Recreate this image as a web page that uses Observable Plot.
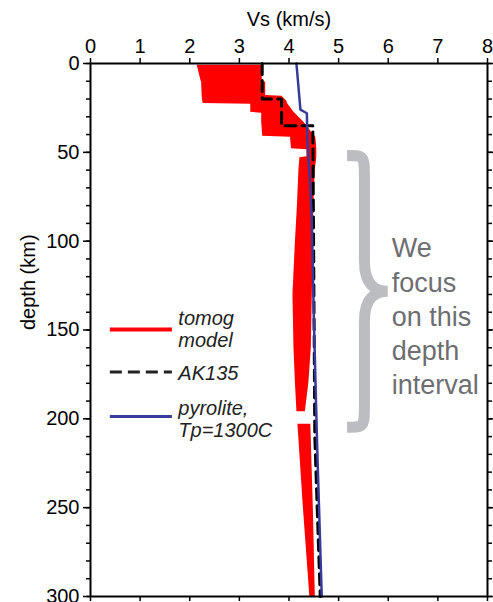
<!DOCTYPE html>
<html><head><meta charset="utf-8">
<script src="https://cdn.jsdelivr.net/npm/d3@7"></script>
<script src="https://cdn.jsdelivr.net/npm/@observablehq/plot@0.6"></script>
<style>body{margin:0;background:#fff;} svg{display:block;}</style>
</head><body><div id="chart"></div>
<script>
// ---- tick values ----
const xTicks = [0, 1, 2, 3, 4, 5, 6, 7, 8];
const yMajorTicks = [0, 50, 100, 150, 200, 250, 300];
const yMinorTicks = [0,10,20,30,40,50,60,70,80,90,100,110,120,130,140,150,160,170,180,190,200,210,220,230,240,250,260,270,280,290,300];

// ---- tomographic model band (min / max Vs per depth), segments ----
const tomogSeg   = ["a","a","a","a","a","a","a","a","a","a","a","a","a","a","a","a","a","a","a","a","a","a","a","a","a","c","c","c"];
const tomogDepth = [1, 10, 10.5, 18, 18.5, 21, 22.5, 23, 27.5, 28, 33, 41, 41.5, 48, 48.5, 52.5, 53, 60, 80, 100, 130, 160, 180, 196, 196.01, 203, 250, 300];
const tomogMin   = [2.15, 2.23, 2.24, 2.25, 2.25, 2.26, 2.27, 3.23, 3.23, 3.45, 3.45, 3.47, 4.03, 4.05, 4.36, 4.36, 4.22, 4.20, 4.17, 4.13, 4.08, 4.10, 4.13, 4.16, 4.16, 4.18, 4.29, 4.42];
const tomogMax   = [3.46, 3.46, 3.53, 3.53, 3.86, 3.95, 3.97, 3.98, 4.10, 4.12, 4.30, 4.52, 4.54, 4.56, 4.56, 4.56, 4.56, 4.53, 4.50, 4.49, 4.47, 4.45, 4.40, 4.33, 4.33, 4.44, 4.49, 4.53];

// ---- AK135 reference model ----
const akDepth = [0, 20, 20, 35, 35, 77.5, 120, 165, 210, 260, 300];
const akVs    = [3.46, 3.46, 3.85, 3.85, 4.48, 4.49, 4.50, 4.51, 4.52, 4.58, 4.63];

// ---- pyrolite, Tp=1300C ----
const pyDepth = [0, 26, 28, 43, 65, 88, 143, 218, 300];
const pyVs    = [4.15, 4.23, 4.36, 4.37, 4.42, 4.46, 4.50, 4.57, 4.66];

// ---- legend ----
const legendLabels = ["tomog\nmodel", "AK135", "pyrolite,\nTp=1300C"];
const legendLineDepth = [149.7, 173.7, 198.7];
const legendTextDepth = [149.2, 174.4, 200.3];
const legendLineVs = [0.40, 1.65];
const legendTextVs = 1.77;

// ---- annotation ----
const noteText = "We\nfocus\non this\ndepth\ninterval";
const noteVs = 6.07;
const noteDepth = 141.5;
const braceDepth = [52, 128.5, 205];
const braceVs = [5.18, 5.53, 6.0];

const tomog = tomogDepth.map((d, i) => ({seg: tomogSeg[i], depth: d, lo: tomogMin[i], hi: tomogMax[i]}));
const ak = akDepth.map((d, i) => ({depth: d, vs: akVs[i]}));
const py = pyDepth.map((d, i) => ({depth: d, vs: pyVs[i]}));
const legend = legendLabels.map((t, i) => ({text: t, ly: legendLineDepth[i], ty: legendTextDepth[i]}));

const RED = "#ff0000", BLUE = "#383a9a", GRAY_BRACE = "#bcbdc0", GRAY_TEXT = "#6d6e71";
const FONT = "'Liberation Sans', Arial, Helvetica, sans-serif";

function brace(index, scales) {
  const x = scales.x, y = scales.y;
  const L = x(braceVs[0]), V = x(braceVs[1]), T = x(braceVs[2]);
  const yT = y(braceDepth[0]), yM = y(braceDepth[1]), yB = y(braceDepth[2]);
  const p = `M${L},${yT} C${V},${yT} ${V},${yT} ${V},${yT+24}
    L${V},${yM-30} C${V},${yM-6} ${T-12},${yM} ${T},${yM}
    C${T-12},${yM} ${V},${yM+6} ${V},${yM+30}
    L${V},${yB-24} C${V},${yB} ${V},${yB} ${L},${yB}`;
  const g = document.createElementNS("http://www.w3.org/2000/svg", "path");
  g.setAttribute("d", p);
  g.setAttribute("fill", "none");
  g.setAttribute("stroke", GRAY_BRACE);
  g.setAttribute("stroke-width", "11");
  g.setAttribute("stroke-linejoin", "miter");
  return g;
}

const chart = Plot.plot({
  width: 493,
  height: 602,
  marginTop: 63,
  marginBottom: 6,
  marginLeft: 90,
  marginRight: 6,
  style: {fontFamily: FONT, fontSize: "20px", color: "black", background: "white"},
  x: {domain: [0, 8]},
  y: {domain: [0, 300], reverse: true},
  marks: [
    Plot.areaX(tomog, {y: "depth", x1: "lo", x2: "hi", z: "seg", fill: RED, curve: "linear"}),
    Plot.line(ak, {x: "vs", y: "depth", stroke: "black", strokeWidth: 3, strokeDasharray: "11,6", curve: "linear"}),
    Plot.line(py, {x: "vs", y: "depth", stroke: BLUE, strokeWidth: 2.5, curve: "linear"}),
    brace,
    Plot.text([noteText], {x: noteVs, y: noteDepth, text: d => d, textAnchor: "start", lineAnchor: "middle", lineHeight: 1.27, fontSize: 27, fill: GRAY_TEXT}),
    // legend
    Plot.ruleY([legend[0]], {y: "ly", x1: legendLineVs[0], x2: legendLineVs[1], stroke: RED, strokeWidth: 4}),
    Plot.ruleY([legend[1]], {y: "ly", x1: legendLineVs[0], x2: legendLineVs[1], stroke: "#222", strokeWidth: 3, strokeDasharray: "12,6"}),
    Plot.ruleY([legend[2]], {y: "ly", x1: legendLineVs[0], x2: legendLineVs[1], stroke: BLUE, strokeWidth: 3}),
    Plot.text(legend, {x: legendTextVs, y: "ty", text: "text", textAnchor: "start", lineAnchor: "middle", lineHeight: 1.1, fontSize: 20, fontStyle: "italic", fill: "#222"}),
    // axes
    Plot.axisX({anchor: "top", ticks: xTicks, tickSize: 6, tickPadding: 5, fontSize: 20, label: null, strokeWidth: 1.5}),
    Plot.axisX({anchor: "bottom", ticks: xTicks, tickSize: 5, tickFormat: () => "", label: null, strokeWidth: 1.5}),
    Plot.axisY({anchor: "left", ticks: yMinorTicks, tickSize: 4, tickFormat: () => "", label: null, strokeWidth: 1.5}),
    Plot.axisY({anchor: "left", ticks: yMajorTicks, tickSize: 7, tickPadding: 4, fontSize: 20, label: null, strokeWidth: 1.5}),
    Plot.axisY({anchor: "right", ticks: yMinorTicks, tickSize: 4, tickFormat: () => "", label: null, strokeWidth: 1.5}),
    Plot.axisY({anchor: "right", ticks: yMajorTicks, tickSize: 6, tickFormat: () => "", label: null, strokeWidth: 1.5}),
    Plot.frame({stroke: "black", strokeWidth: 2}),
    Plot.text(["Vs (km/s)"], {frameAnchor: "top", dy: -44, text: d => d, fontSize: 20, lineAnchor: "middle"}),
    Plot.text(["depth (km)"], {frameAnchor: "left", dx: -62, text: d => d, fontSize: 20, rotate: -90, lineAnchor: "middle"})
  ]
});
document.getElementById("chart").appendChild(chart);
</script>
</body></html>
